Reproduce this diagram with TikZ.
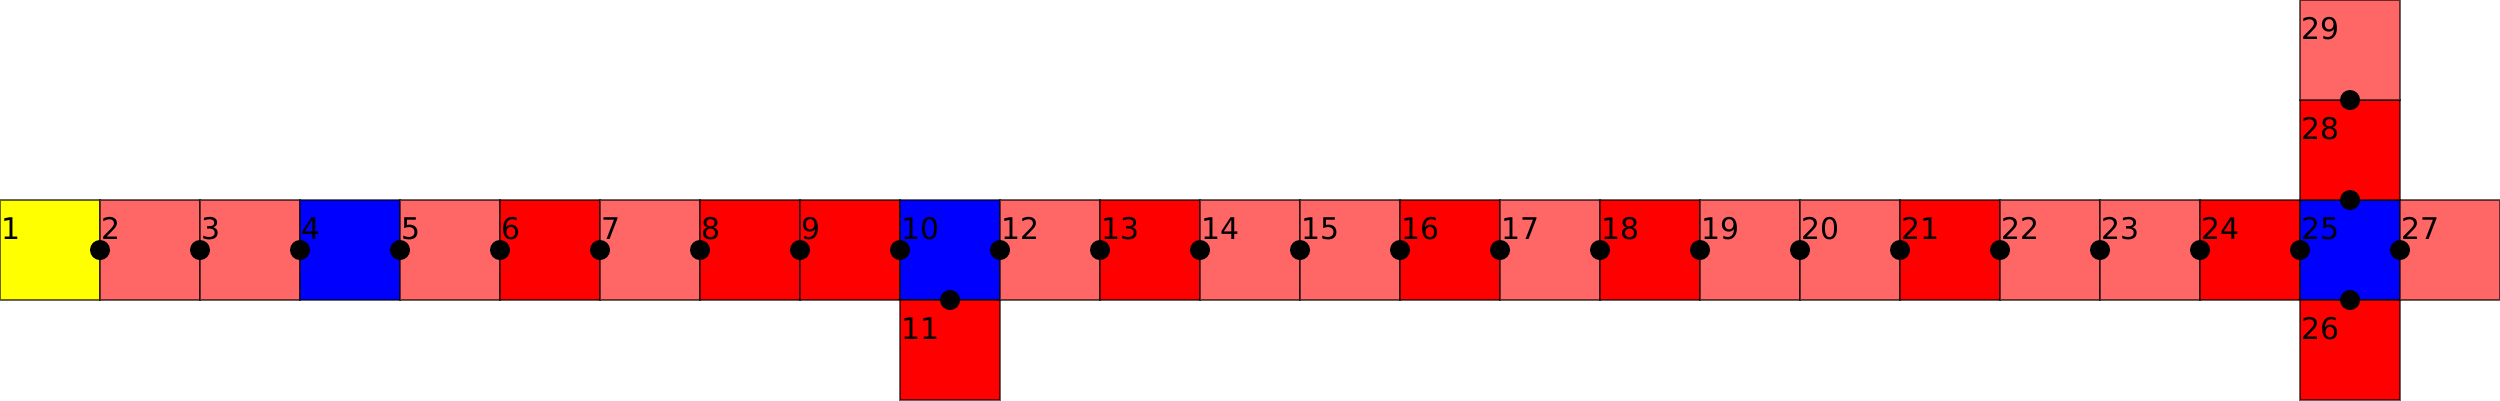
\documentclass[tikz,border=0pt]{standalone}
\usepackage{fontspec}
\setmainfont{DejaVu Sans}
\usetikzlibrary{positioning}
\definecolor{lred}{HTML}{FF6666}
\definecolor{fred}{HTML}{FF0000}
\definecolor{fblue}{HTML}{0000FF}
\definecolor{fyellow}{HTML}{FFFF00}
\tikzset{
  sq/.style={draw=black, draw opacity=0.6, line width=0.6pt, minimum size=1cm, inner sep=0pt, outer sep=0pt},
  num/.style={anchor=base west, inner sep=0pt, font=\fontsize{8.5}{10}\selectfont},
}
\begin{document}
\begin{tikzpicture}[node distance=0pt]
\useasboundingbox (0,0) rectangle (25,4);
% main row:
\node[sq, fill=fyellow] (s1) at (0.5,1.5) {};
\node[sq, fill=lred, right=of s1] (s2) {};
\node[sq, fill=lred, right=of s2] (s3) {};
\node[sq, fill=fblue, right=of s3] (s4) {};
\node[sq, fill=lred, right=of s4] (s5) {};
\node[sq, fill=fred, right=of s5] (s6) {};
\node[sq, fill=lred, right=of s6] (s7) {};
\node[sq, fill=fred, right=of s7] (s8) {};
\node[sq, fill=fred, right=of s8] (s9) {};
\node[sq, fill=fblue, right=of s9] (s10) {};
\node[sq, fill=fred, below=of s10] (s11) {};
\node[sq, fill=lred, right=of s10] (s12) {};
\node[sq, fill=fred, right=of s12] (s13) {};
\node[sq, fill=lred, right=of s13] (s14) {};
\node[sq, fill=lred, right=of s14] (s15) {};
\node[sq, fill=fred, right=of s15] (s16) {};
\node[sq, fill=lred, right=of s16] (s17) {};
\node[sq, fill=fred, right=of s17] (s18) {};
\node[sq, fill=lred, right=of s18] (s19) {};
\node[sq, fill=lred, right=of s19] (s20) {};
\node[sq, fill=fred, right=of s20] (s21) {};
\node[sq, fill=lred, right=of s21] (s22) {};
\node[sq, fill=lred, right=of s22] (s23) {};
\node[sq, fill=fred, right=of s23] (s24) {};
\node[sq, fill=fblue, right=of s24] (s25) {};
% arms of 25:
\node[sq, fill=fred, below=of s25] (s26) {};
\node[sq, fill=lred, right=of s25] (s27) {};
\node[sq, fill=fred, above=of s25] (s28) {};
\node[sq, fill=lred, above=of s28] (s29) {};
% numbers:
\foreach \i in {1,...,29}
  \node[num] (n\i) at ([shift={(0.3pt,-11.3pt)}]s\i.north west) {\i};
% joints:
\foreach \i in {2,...,10,12,13,...,25,27}
  \fill (s\i.west) circle (0.1);
\fill (s10.south) circle (0.1);
\fill (s25.south) circle (0.1);
\fill (s25.north) circle (0.1);
\fill (s28.north) circle (0.1);
\end{tikzpicture}
\end{document}
